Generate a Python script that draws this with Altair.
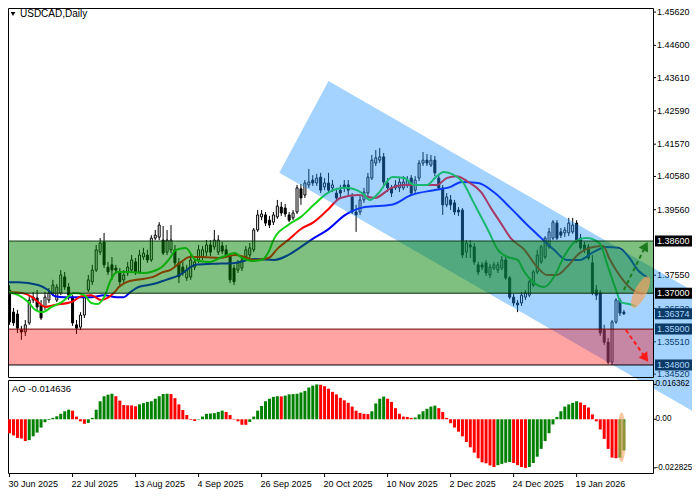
import altair as alt
import pandas as pd

# ---------------- data ----------------
OPEN = [1.3710,1.3642,1.3636,1.3587,1.3581,1.3609,1.3679,1.3685,1.3664,1.3658,
1.3679,1.3701,1.3679,1.3701,1.3750,1.3719,1.3688,1.3603,1.3596,1.3633,
1.3710,1.3735,1.3771,1.3826,1.3857,1.3780,1.3787,1.3777,1.3762,1.3741,
1.3762,1.3771,1.3796,1.3765,1.3811,1.3817,1.3802,1.3869,1.3872,1.3863,
1.3826,1.3833,1.3833,1.3793,1.3780,1.3747,1.3750,1.3780,1.3802,1.3811,
1.3826,1.3848,1.3842,1.3826,1.3845,1.3833,1.3814,1.3777,1.3771,1.3777,
1.3811,1.3817,1.3833,1.3894,1.3934,1.3940,1.3924,1.3918,1.3934,1.3964,
1.3961,1.3940,1.3931,1.3949,1.4020,1.4001,1.4032,1.4047,1.4038,1.4056,
1.4026,1.4038,1.4023,1.4007,1.4016,1.4032,1.4032,1.3995,1.3949,1.3949,
1.3986,1.4007,1.4053,1.4099,1.4108,1.4118,1.4038,1.4023,1.4023,1.4023,
1.4023,1.4032,1.4053,1.4016,1.4053,1.4099,1.4108,1.4093,1.4108,1.4053,
1.4023,1.3971,1.3986,1.3977,1.3955,1.3955,1.3826,1.3848,1.3842,1.3787,
1.3787,1.3793,1.3756,1.3777,1.3771,1.3777,1.3802,1.3747,1.3688,1.3670,
1.3670,1.3688,1.3694,1.3725,1.3765,1.3796,1.3811,1.3842,1.3869,1.3915,
1.3888,1.3885,1.3885,1.3888,1.3915,1.3869,1.3848,1.3842,1.3793,1.3710,
1.3701,1.3587,1.3550,1.3489,1.3612,1.3679,1.3642]

HIGH = [1.3725,1.3655,1.3649,1.3600,1.3618,1.3691,1.3704,1.3710,1.3679,1.3704,
1.3716,1.3741,1.3728,1.3771,1.3765,1.3731,1.3694,1.3618,1.3642,1.3694,
1.3756,1.3787,1.3848,1.3869,1.3885,1.3796,1.3811,1.3787,1.3777,1.3771,
1.3796,1.3817,1.3808,1.3833,1.3839,1.3833,1.3878,1.3894,1.3918,1.3906,
1.3894,1.3909,1.3848,1.3808,1.3796,1.3787,1.3817,1.3808,1.3848,1.3845,
1.3863,1.3863,1.3894,1.3878,1.3857,1.3848,1.3817,1.3787,1.3802,1.3814,
1.3845,1.3854,1.3900,1.3955,1.3955,1.3949,1.3937,1.3949,1.3986,1.3980,
1.3974,1.3949,1.3955,1.4032,1.4035,1.4047,1.4081,1.4062,1.4066,1.4069,
1.4053,1.4069,1.4047,1.4023,1.4032,1.4047,1.4047,1.4007,1.3971,1.3998,
1.4023,1.4069,1.4124,1.4139,1.4145,1.4130,1.4053,1.4032,1.4047,1.4053,
1.4059,1.4059,1.4062,1.4059,1.4108,1.4133,1.4127,1.4124,1.4121,1.4062,
1.4032,1.4007,1.4001,1.3986,1.3964,1.3961,1.3863,1.3863,1.3854,1.3796,
1.3796,1.3802,1.3790,1.3796,1.3796,1.3814,1.3811,1.3753,1.3698,1.3679,
1.3704,1.3710,1.3741,1.3771,1.3833,1.3848,1.3875,1.3900,1.3924,1.3924,
1.3900,1.3903,1.3931,1.3931,1.3924,1.3882,1.3857,1.3851,1.3817,1.3725,
1.3710,1.3603,1.3563,1.3618,1.3685,1.3685,1.3649]

LOW = [1.3603,1.3600,1.3578,1.3557,1.3569,1.3603,1.3670,1.3649,1.3618,1.3649,
1.3670,1.3691,1.3673,1.3694,1.3710,1.3679,1.3600,1.3575,1.3587,1.3624,
1.3704,1.3725,1.3765,1.3817,1.3777,1.3756,1.3741,1.3759,1.3725,1.3731,
1.3753,1.3762,1.3756,1.3759,1.3802,1.3793,1.3796,1.3863,1.3863,1.3817,
1.3817,1.3823,1.3783,1.3731,1.3753,1.3738,1.3741,1.3771,1.3793,1.3802,
1.3814,1.3814,1.3833,1.3817,1.3820,1.3808,1.3731,1.3725,1.3762,1.3768,
1.3802,1.3808,1.3826,1.3888,1.3924,1.3906,1.3900,1.3909,1.3928,1.3937,
1.3934,1.3918,1.3924,1.3943,1.3971,1.3992,1.4023,1.4029,1.4029,1.4007,
1.4016,1.4007,1.4010,1.3986,1.3995,1.4010,1.4001,1.3943,1.3888,1.3940,
1.3977,1.3998,1.4047,1.4090,1.4099,1.4032,1.4010,1.3995,1.4016,1.4010,
1.4016,1.4023,1.3998,1.4007,1.4044,1.4090,1.4090,1.4087,1.4059,1.4016,
1.3940,1.3964,1.3955,1.3940,1.3937,1.3808,1.3808,1.3808,1.3787,1.3756,
1.3771,1.3753,1.3747,1.3771,1.3762,1.3771,1.3741,1.3682,1.3661,1.3642,
1.3661,1.3679,1.3688,1.3719,1.3759,1.3790,1.3805,1.3836,1.3863,1.3863,
1.3869,1.3872,1.3875,1.3882,1.3854,1.3833,1.3823,1.3802,1.3694,1.3679,
1.3569,1.3541,1.3483,1.3480,1.3606,1.3630,1.3633]

CLOSE = [1.3612,1.3609,1.3593,1.3581,1.3603,1.3679,1.3688,1.3658,1.3624,1.3688,
1.3701,1.3725,1.3719,1.3756,1.3719,1.3694,1.3609,1.3593,1.3633,1.3688,
1.3741,1.3771,1.3833,1.3854,1.3787,1.3765,1.3771,1.3771,1.3735,1.3756,
1.3780,1.3802,1.3765,1.3817,1.3823,1.3802,1.3869,1.3878,1.3909,1.3823,
1.3863,1.3863,1.3793,1.3750,1.3762,1.3771,1.3802,1.3796,1.3833,1.3833,
1.3848,1.3826,1.3863,1.3863,1.3829,1.3817,1.3741,1.3735,1.3793,1.3802,
1.3833,1.3839,1.3894,1.3940,1.3943,1.3915,1.3909,1.3940,1.3967,1.3946,
1.3943,1.3924,1.3946,1.4023,1.3992,1.4038,1.4041,1.4038,1.4053,1.4016,
1.4038,1.4016,1.4032,1.3992,1.4007,1.4023,1.4016,1.3949,1.3940,1.3986,
1.4010,1.4056,1.4108,1.4115,1.4118,1.4041,1.4023,1.4007,1.4032,1.4041,
1.4041,1.4047,1.4007,1.4047,1.4099,1.4108,1.4099,1.4108,1.4069,1.4023,
1.3971,1.3995,1.3971,1.3949,1.3949,1.3817,1.3854,1.3842,1.3796,1.3765,
1.3780,1.3762,1.3780,1.3787,1.3787,1.3802,1.3747,1.3688,1.3670,1.3664,
1.3694,1.3701,1.3735,1.3765,1.3817,1.3842,1.3869,1.3888,1.3918,1.3869,
1.3878,1.3894,1.3915,1.3909,1.3863,1.3839,1.3833,1.3808,1.3701,1.3694,
1.3578,1.3550,1.3489,1.3612,1.3679,1.3639,1.3637]

# Awesome Oscillator histogram and bar colours (g = rising, r = falling)
AO = [-0.00654,-0.00757,-0.00875,-0.00904,-0.01022,-0.00978,-0.00801,-0.00625,-0.00390,-0.00140,
-0.00037,0.00066,0.00140,0.00257,0.00375,0.00448,0.00404,0.00125,-0.00096,-0.00213,
-0.00169,0.00066,0.00448,0.00845,0.01080,0.01154,0.01198,0.01080,0.00875,0.00669,
0.00654,0.00650,0.00610,0.00698,0.00757,0.00816,0.00845,0.00963,0.01080,0.01183,
0.01198,0.01183,0.00992,0.00698,0.00434,0.00198,-0.00030,-0.00081,-0.00020,0.00125,
0.00257,0.00272,0.00287,0.00345,0.00404,0.00345,0.00198,-0.00020,-0.00096,-0.00257,
-0.00260,-0.00125,0.00125,0.00404,0.00625,0.00845,0.00963,0.01051,0.01080,0.01073,
0.01110,0.01169,0.01183,0.01198,0.01257,0.01330,0.01492,0.01580,0.016362,0.01620,
0.01551,0.01433,0.01286,0.01169,0.01007,0.00889,0.00772,0.00595,0.00404,0.00301,
0.00257,0.00243,0.00375,0.00742,0.00963,0.01066,0.00963,0.00816,0.00522,0.00257,
0.00125,0.00110,0.00066,0.00081,0.00228,0.00375,0.00492,0.00595,0.00639,0.00522,
0.00345,0.00066,-0.00184,-0.00390,-0.00581,-0.00801,-0.01066,-0.01316,-0.01566,-0.01830,
-0.02021,-0.02065,-0.02168,-0.02242,-0.02154,-0.02095,-0.02036,-0.02007,-0.02051,-0.02154,
-0.02242,-0.022825,-0.02240,-0.02051,-0.01757,-0.01389,-0.01022,-0.00654,-0.00243,0.00110,
0.00375,0.00595,0.00698,0.00772,0.00845,0.00786,0.00669,0.00551,0.00228,-0.00096,
-0.00478,-0.00919,-0.01389,-0.01801,-0.01830,-0.01800,-0.014636]
AO_DIR = ("rrrrr" "ggggggggggg" "rrrr" "ggggggg" "rrrrrr" "gggggggg" "rrrrrrr"
          "ggggggg" "rrrrrr" "gggggggg" "r" "ggggggggg" "rrrrrrrrrrrrr" "gggg"
          "rrrrrrr" "gggggg" "rrrrrrrrrrrrrrr" "gggg" "rrrr" "ggggggggggggg"
          "rrrrrrrrrr" "gg")

# Alligator lines (bar position, price)
JAW_X = [-0.5,2.25,7.25,9.75,11.5,14,20.75,24,27.25,29,30.75,32.75,36.5,39.75,43.25,47.25,51.5,57.25,
         62.25,67.25,70.75,74,77.25,80.75,85.25,90.25,97,102,107.75,112,114.75,119,123.25,127.25,
         131.5,134.75,138.25,141.5,144.75,148.25,151.5,154.75,157.25,159.75,162.25]
JAW_P = [1.3734,1.3734,1.3725,1.3710,1.3691,1.3688,1.3688,1.3694,1.3688,1.3688,1.3704,1.3719,1.3728,
         1.3741,1.3756,1.3787,1.3790,1.3793,1.3805,1.3802,1.3817,1.3842,1.3869,1.3894,1.3940,1.3964,
         1.3971,1.4001,1.4016,1.4026,1.4041,1.4038,1.4007,1.3961,1.3909,1.3872,1.3833,1.3802,1.3802,
         1.3826,1.3842,1.3839,1.3811,1.3768,1.3747]
TEETH_X = [-0.5,3.25,5.75,7.25,9,11.5,15.75,18.25,20.75,23.25,24.75,26.5,27.75,29.75,32.25,36.5,39,
           40.75,43.25,45.75,49,53.25,57.25,59.75,62.25,65.75,68.25,70.75,74,77.25,80.75,84,88.5,
           92.75,97,100.25,105.25,108.5,111,113.5,116.5,119.75,122.25,124.75,127.25,130.75,134,
           136.5,139,141.5,144.75,148.25,150.75,152.25,154,156,158.25,160.75]
TEETH_P = [1.3704,1.3701,1.3688,1.3673,1.3658,1.3664,1.3673,1.3691,1.3694,1.3679,1.3685,1.3701,1.3719,
           1.3734,1.3741,1.3750,1.3765,1.3771,1.3793,1.3811,1.3811,1.3808,1.3817,1.3811,1.3802,1.3808,
           1.3839,1.3863,1.3897,1.3918,1.3955,1.3992,1.4001,1.3992,1.4023,1.4032,1.4032,1.4032,1.4053,
           1.4059,1.4041,1.4010,1.3961,1.3915,1.3869,1.3833,1.3780,1.3756,1.3756,1.3780,1.3823,1.3842,
           1.3845,1.3808,1.3771,1.3737,1.3710,1.3698]
LIPS_X = [-0.5,2.25,4.75,6.5,8.25,10.75,13.25,16.5,19,20.75,22.25,24,25.75,27.25,30.75,34,38.25,40.75,
          42.25,44.75,47.25,50.75,54,57.25,59,61.5,64,65.75,67.25,70.75,74,77.25,80.75,85.25,89.5,
          91.5,93.5,97.25,100.25,102.75,106,108.25,110.25,112.25,115.25,117.75,119.5,121.5,124,
          126.5,129,130.75,133.25,135.75,138.25,140.75,143.25,146.5,149.75,152,154,155.25,157.25,159]
LIPS_P = [1.3704,1.3694,1.3673,1.3649,1.3642,1.3658,1.3673,1.3701,1.3694,1.3670,1.3667,1.3688,1.3741,
          1.3765,1.3765,1.3762,1.3777,1.3808,1.3833,1.3839,1.3802,1.3796,1.3811,1.3823,1.3808,1.3799,
          1.3802,1.3826,1.3869,1.3909,1.3934,1.3971,1.4007,1.4023,1.4007,1.3986,1.4004,1.4056,1.4053,
          1.4032,1.4032,1.4056,1.4072,1.4066,1.4038,1.3980,1.3940,1.3894,1.3833,1.3811,1.3802,1.3765,
          1.3731,1.3719,1.3750,1.3811,1.3854,1.3869,1.3854,1.3780,1.3710,1.3673,1.3667,1.3661]

# Price scale labels
PRICE_TICKS = [1.45620,1.44600,1.43610,1.42590,1.41570,1.40580,1.39560,1.37550,1.36530,1.35510,1.34520]
PRICE_LABELS = ["1.45620","1.44600","1.43610","1.42590","1.41570","1.40580","1.39560",
                "1.37550","1.36530","1.35510","1.34520"]
# highlighted price labels: zone edges (black) and current price / lower zone (under the channel)
TOP_MARK_PRICES = [1.38600, 1.37000]
TOP_MARK_LABELS = ["1.38600", "1.37000"]
LOW_MARK_PRICES = [1.36374, 1.35900, 1.34800]
LOW_MARK_LABELS = ["1.36374", "1.35900", "1.34800"]
AO_TICKS = [0.016362, 0.0, -0.022825]
AO_LABELS = ["0.016362", "0.00", "-0.022825"]
DATE_POS = [0, 16, 32, 48, 64, 80, 96, 112, 128, 144]
DATE_LABELS = ["30 Jun 2025", "22 Jul 2025", "13 Aug 2025", "4 Sep 2025", "26 Sep 2025",
               "20 Oct 2025", "10 Nov 2025", "2 Dec 2025", "24 Dec 2025", "19 Jan 2026"]

# Analyst drawings
GREEN_ZONE = (1.37000, 1.38600)
RED_ZONE = (1.34800, 1.35900)
CHANNEL_X = [68.5, 81.0, 179.0]
CHANNEL_TOP = [1.4069, 1.4351, 1.3669]
CHANNEL_BOT = [1.4069, 1.3983, 1.3300]
UP_ARROW_X = [156.0, 161.0]
UP_ARROW_P = [1.37099, 1.38325]
DN_ARROW_X = [156.5, 161.0]
DN_ARROW_P = [1.35872, 1.35106]

# ---------------- layout ----------------
W, H = 645, 465
MAIN_H = 369
AO_Y0, AO_Y1 = 372, 465
X_DOM = [0.875, 162.125]
P_DOM = [1.344312, 1.457447]
AO_DOM = [-0.025220, 0.018430]
FONT = "Liberation Sans"


def xq(f="i"):
    return alt.X(f"{f}:Q", scale=alt.Scale(domain=X_DOM, range=[0, W], nice=False, zero=False), axis=None)


def yp(f):
    return alt.Y(f"{f}:Q", scale=alt.Scale(domain=P_DOM, range=[MAIN_H, 0], nice=False, zero=False), axis=None)


def ya(f):
    return alt.Y(f"{f}:Q", scale=alt.Scale(domain=AO_DOM, range=[AO_Y1, AO_Y0], nice=False, zero=False), axis=None)


one = pd.DataFrame({"k": [0]})

cdf = pd.DataFrame({"i": list(range(len(OPEN))), "o": OPEN, "h": HIGH, "l": LOW, "c": CLOSE})
cdf["dir"] = ["up" if c >= o else "down" for o, c in zip(OPEN, CLOSE)]

wicks = alt.Chart(cdf).mark_rule(color="black", strokeWidth=1, clip=True).encode(
    x=xq(), y=yp("l"), y2="h")
bodies = alt.Chart(cdf).mark_bar(size=2, stroke="black", strokeWidth=1, clip=True).encode(
    x=xq(), y=yp("o"), y2="c",
    fill=alt.Fill("dir:N", scale=alt.Scale(domain=["up", "down"], range=["white", "black"]), legend=None))


def ma_line(xs, ps, color):
    d = pd.DataFrame({"i": xs, "p": ps})
    return alt.Chart(d).mark_line(color=color, strokeWidth=2, interpolate="monotone", clip=True).encode(
        x=xq(), y=yp("p"))


jaw = ma_line(JAW_X, JAW_P, "#0000ff")
teeth = ma_line(TEETH_X, TEETH_P, "#ff0000")
lips = ma_line(LIPS_X, LIPS_P, "#14d214")

pt = pd.DataFrame({"p": PRICE_TICKS, "lab": PRICE_LABELS})
p_ticks = alt.Chart(pt).mark_rule(color="black").encode(x=alt.value(W), x2=alt.value(W + 3), y=yp("p"))
p_labels = alt.Chart(pt).mark_text(align="left", baseline="middle", font=FONT, fontSize=9, color="black").encode(
    x=alt.value(W + 4), y=yp("p"), text="lab:N")


def mark_labels(prices, labels):
    d = pd.DataFrame({"p": prices, "lab": labels})
    box = alt.Chart(d).mark_rule(color="black", strokeWidth=11, strokeCap="butt").encode(
        x=alt.value(W + 2), x2=alt.value(W + 39), y=yp("p"))
    txt = alt.Chart(d).mark_text(align="left", baseline="middle", font=FONT, fontSize=9, color="white").encode(
        x=alt.value(W + 4), y=yp("p"), text="lab:N")
    return box, txt


low_box, low_txt = mark_labels(LOW_MARK_PRICES, LOW_MARK_LABELS)
top_box, top_txt = mark_labels(TOP_MARK_PRICES, TOP_MARK_LABELS)

chan = pd.DataFrame({"i": CHANNEL_X, "top": CHANNEL_TOP, "bot": CHANNEL_BOT})
channel = alt.Chart(chan).mark_area(color="#1e90ff", opacity=0.4, clip=False).encode(
    x=xq(), y=yp("top"), y2="bot")

zones = pd.DataFrame({"lo": [GREEN_ZONE[0], RED_ZONE[0]], "hi": [GREEN_ZONE[1], RED_ZONE[1]],
                      "col": ["#008000", "#ff0000"], "op": [0.5, 0.36]})
zone_rects = alt.Chart(zones).mark_rect(clip=True).encode(
    x=alt.value(0), x2=alt.value(W), y=yp("lo"), y2="hi",
    fill=alt.Fill("col:N", scale=None), opacity=alt.Opacity("op:Q", scale=None))
zl = pd.DataFrame({"p": [GREEN_ZONE[1], GREEN_ZONE[0], RED_ZONE[1], RED_ZONE[0]],
                   "col": ["#0f3f0f", "#0a2a0a", "#700000", "#000000"]})
zone_lines = alt.Chart(zl).mark_rule(strokeWidth=1).encode(
    x=alt.value(0), x2=alt.value(W), y=yp("p"), color=alt.Color("col:N", scale=None))

up = pd.DataFrame({"i": UP_ARROW_X, "p": UP_ARROW_P})
dn = pd.DataFrame({"i": DN_ARROW_X, "p": DN_ARROW_P})
up_line = alt.Chart(up).mark_line(color="#1e7a1e", strokeWidth=2, strokeDash=[4, 3]).encode(x=xq(), y=yp("p"))
dn_line = alt.Chart(dn).mark_line(color="#ff1a1a", strokeWidth=2, strokeDash=[4, 3]).encode(x=xq(), y=yp("p"))
heads = pd.DataFrame({"i": [161.5, 161.5], "p": [1.38448, 1.35014], "ang": [28, 144],
                      "col": ["#1e7a1e", "#ff1a1a"]})
arrow_heads = alt.Chart(heads).mark_point(shape="triangle-up", filled=True, size=110, opacity=1).encode(
    x=xq(), y=yp("p"), angle=alt.Angle("ang:Q", scale=None), color=alt.Color("col:N", scale=None))

ELLIPSE = "M0,-1 A0.34,1 0 1,1 0,1 A0.34,1 0 1,1 0,-1 Z"
ell_main = alt.Chart(pd.DataFrame({"i": [160.25], "p": [1.37037]})).mark_point(
    shape=ELLIPSE, filled=True, size=1225, angle=27, color="#f4a460", opacity=0.7, clip=True).encode(
    x=xq(), y=yp("p"))

# AO panel
ao_frame = alt.Chart(one).mark_rect(fill="white", stroke="black", strokeWidth=1).encode(
    x=alt.value(0.5), x2=alt.value(W + 0.5), y=alt.value(AO_Y0 + 0.5), y2=alt.value(AO_Y1 + 0.5))
aodf = pd.DataFrame({"i": list(range(len(AO))), "v": AO, "z": [0.0] * len(AO), "d": list(AO_DIR)})
ao_bars = alt.Chart(aodf).mark_bar(size=3, clip=True).encode(
    x=xq(), y=ya("z"), y2="v",
    color=alt.Color("d:N", scale=alt.Scale(domain=["g", "r"], range=["#008000", "#ff0000"]), legend=None))
at = pd.DataFrame({"v": AO_TICKS, "lab": AO_LABELS})
ao_ticks = alt.Chart(at).mark_rule(color="black").encode(x=alt.value(W), x2=alt.value(W + 3), y=ya("v"))
ao_labels = alt.Chart(at).mark_text(align="left", baseline="middle", font=FONT, fontSize=8.2, color="black").encode(
    x=alt.value(W + 2.5), y=ya("v"), text="lab:N")
ELL_AO = "M0,-1 A0.17,1 0 1,1 0,1 A0.17,1 0 1,1 0,-1 Z"
ell_ao = alt.Chart(pd.DataFrame({"i": [155.4], "v": [-0.00847]})).mark_point(
    shape=ELL_AO, filled=True, size=2500, color="#f4a460", opacity=0.6).encode(x=xq(), y=ya("v"))
ao_title = alt.Chart(one).mark_text(align="left", baseline="middle", font=FONT, fontSize=9.5, color="black").encode(
    x=alt.value(4), y=alt.value(AO_Y0 + 8.5), text=alt.value("AO -0.014636"))

# frame, title, dates
main_frame = alt.Chart(one).mark_rect(fill="transparent", stroke="black", strokeWidth=1).encode(
    x=alt.value(0.5), x2=alt.value(W + 0.5), y=alt.value(0.5), y2=alt.value(MAIN_H + 0.5))
tri = alt.Chart(one).mark_point(shape="triangle-down", filled=True, size=22, color="black", opacity=1).encode(
    x=alt.value(5), y=alt.value(6))
title = alt.Chart(one).mark_text(align="left", baseline="middle", font=FONT, fontSize=10, color="black").encode(
    x=alt.value(12), y=alt.value(6), text=alt.value("USDCAD,Daily"))
dd = pd.DataFrame({"i": DATE_POS, "lab": DATE_LABELS})
d_ticks = alt.Chart(dd).mark_rule(color="black").encode(x=xq(), y=alt.value(AO_Y1), y2=alt.value(AO_Y1 + 4))
d_labels = alt.Chart(dd).mark_text(align="left", baseline="middle", font=FONT, fontSize=9, color="black", dx=-1).encode(
    x=xq(), y=alt.value(AO_Y1 + 11), text="lab:N")

chart = alt.layer(
    wicks, bodies, jaw, teeth, lips,
    p_ticks, p_labels, low_box, low_txt,
    channel, top_box, top_txt, zone_rects, zone_lines,
    up_line, dn_line, arrow_heads, ell_main,
    ao_frame, ao_bars, ao_ticks, ao_labels, ell_ao, ao_title,
    main_frame, tri, title, d_ticks, d_labels,
).resolve_scale(y="independent").properties(
    width=W, height=H,
    autosize=alt.AutoSizeParams(type="none"),
    padding={"left": 0, "top": 0, "right": 39, "bottom": 19},
    background="white",
).configure_view(stroke=None)

chart.save("out.html", embed_options={"renderer": "svg", "actions": False})
